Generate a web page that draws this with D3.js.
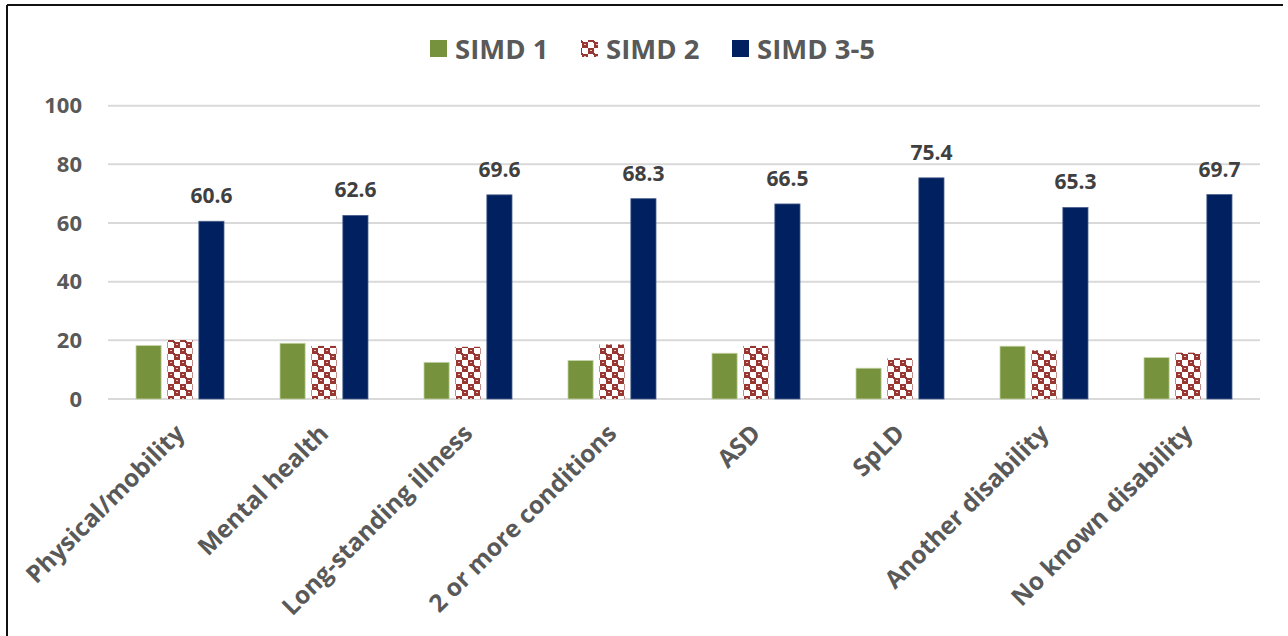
<!DOCTYPE html>
<html><head><meta charset="utf-8">
<script src="https://cdn.jsdelivr.net/npm/d3@7"></script>
<style>body{margin:0;background:#fff}svg{display:block}</style>
</head><body>
<svg id="chart" width="1288" height="636"></svg>
<script>
const categories = ["Physical/mobility","Mental health","Long-standing illness","2 or more conditions","ASD","SpLD","Another disability","No known disability"];
const seriesNames = ["SIMD 1","SIMD 2","SIMD 3-5"];
const simd1 = [18.2,19.0,12.5,13.1,15.6,10.5,18.0,14.1];
const simd2 = [20.1,18.1,17.8,18.6,18.1,13.9,16.6,15.8];
const simd35 = [60.6,62.6,69.6,68.3,66.5,75.4,65.3,69.7];
const yTicks = [0,20,40,60,80,100];

(function(){
const svg = d3.select("#chart");
const font = "'Open Sans', 'DejaVu Sans', sans-serif";
const defs = svg.append("defs");
const red = "#983632";
const pat = defs.append("pattern").attr("id","p2").attr("patternUnits","userSpaceOnUse")
  .attr("width",12).attr("height",12);
pat.append("rect").attr("width",12).attr("height",12).attr("fill","#fff");
pat.append("rect").attr("x",0).attr("y",0).attr("width",6).attr("height",6).attr("fill",red);
pat.append("rect").attr("x",6).attr("y",6).attr("width",6).attr("height",6).attr("fill",red);
pat.append("rect").attr("x",5).attr("y",5).attr("width",2).attr("height",2).attr("fill",red);
pat.append("rect").attr("x",11).attr("y",11).attr("width",1).attr("height",1).attr("fill",red);
pat.append("rect").attr("x",2).attr("y",2).attr("width",2).attr("height",1).attr("fill","#e8c8c6");
pat.append("rect").attr("x",8).attr("y",8).attr("width",2).attr("height",1).attr("fill","#e8c8c6");

const colors = ["#76923c","url(#p2)","#002060"];
const data = [simd1, simd2, simd35];

// frame
svg.append("line").attr("x1",7).attr("x2",1283).attr("y1",5).attr("y2",5).attr("stroke","#111").attr("stroke-width",2);
svg.append("line").attr("x1",7).attr("x2",7).attr("y1",5).attr("y2",636).attr("stroke","#111").attr("stroke-width",2);

const mLeft = 108, mRight = 1260, mTop = 105.7, mBottom = 399;
const groupW = 88;
const x = d3.scaleBand().domain(categories).range([mLeft,mRight]);
const y = d3.scaleLinear().domain([0,100]).range([mBottom,mTop]);
const x1 = d3.scaleBand().domain(seriesNames).range([0,groupW]).paddingInner(0.2);
const groupOffset = (x.bandwidth()-groupW)/2;

// gridlines
svg.append("g").selectAll("line").data(yTicks).join("line")
  .attr("x1",mLeft).attr("x2",mRight).attr("y1",d=>y(d)).attr("y2",d=>y(d))
  .attr("stroke","#d9d9d9").attr("stroke-width",2);

// y axis labels
const yAxis = svg.append("g").attr("transform",`translate(${mLeft},0)`)
  .call(d3.axisLeft(y).tickValues(yTicks).tickSize(0).tickPadding(26));
yAxis.select(".domain").remove();
yAxis.selectAll("text").attr("font-family",font).attr("font-weight","bold").attr("font-size",22).attr("fill","#595959");

// bars
seriesNames.forEach((s,si)=>{
  svg.append("g").selectAll("rect").data(categories).join("rect")
    .attr("x",(c)=>x(c)+groupOffset+x1(s))
    .attr("width",x1.bandwidth())
    .attr("y",(c,i)=>y(data[si][i]))
    .attr("height",(c,i)=>y(0)-y(data[si][i]))
    .attr("fill",colors[si])
    .attr("stroke", si===0 ? "#c4d3a6" : (si===2 ? "#4a5f8c" : "none"))
    .attr("stroke-width", si===1 ? 0 : 0.8);
});

// value labels on SIMD 3-5
svg.append("g").selectAll("text").data(categories).join("text")
  .attr("x",c=>x(c)+groupOffset+x1("SIMD 3-5")+x1.bandwidth()/2)
  .attr("y",(c,i)=>y(simd35[i])-18)
  .attr("text-anchor","middle")
  .attr("font-family",font).attr("font-weight","bold").attr("font-size",21).attr("fill","#404040")
  .text((c,i)=>simd35[i].toFixed(1));

// x axis labels
const xAxis = svg.append("g").attr("transform",`translate(0,${mBottom})`)
  .call(d3.axisBottom(x).tickSize(0).tickPadding(0));
xAxis.select(".domain").remove();
xAxis.selectAll("text")
  .attr("font-family",font).attr("font-weight","bold").attr("font-size",24.5).attr("fill","#595959")
  .attr("text-anchor","end").attr("dy",0)
  .attr("transform","translate(6,36) rotate(-45)");

// legend
const legendX = [430, 581, 732];
const lg = svg.append("g");
seriesNames.forEach((s,i)=>{
  lg.append("rect").attr("x",legendX[i]).attr("y",40).attr("width",17).attr("height",17).attr("fill",colors[i]);
  lg.append("text").attr("x",legendX[i]+25).attr("y",58.5)
    .attr("font-family",font).attr("font-weight","bold").attr("font-size",27.5).attr("fill","#595959").text(s);
});
})();
</script>
</body></html>
